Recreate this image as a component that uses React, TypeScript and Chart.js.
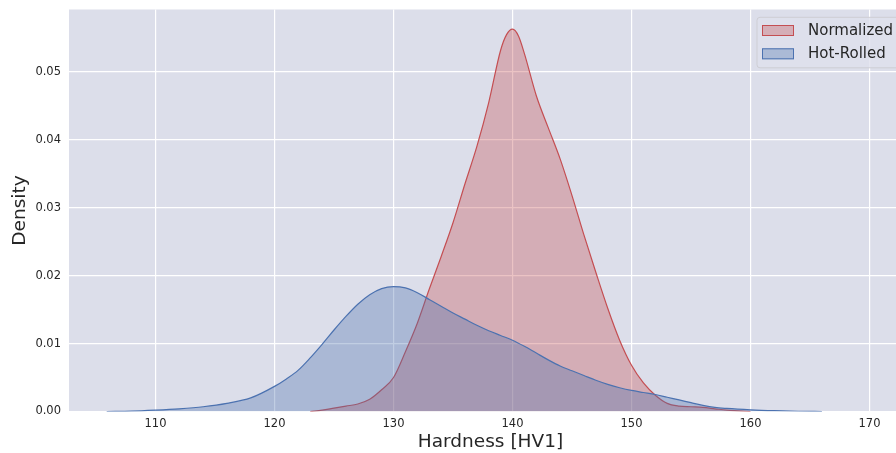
import React, { useEffect, useRef } from "react";
import { Chart, registerables } from "chart.js";

Chart.register(...registerables);

const xTicks = [110, 120, 130, 140, 150, 160, 170];
const yTicks = [0, 0.01, 0.02, 0.03, 0.04, 0.05];
const seriesNames = ["Normalized", "Hot-Rolled"];

const hotRolledX = [105.9, 108, 110, 112, 114, 116, 118, 120, 121, 122, 123, 124, 125, 126, 127, 128, 129, 130, 131, 132, 133, 134, 135, 136, 137, 138, 139, 140, 141, 142, 143, 144, 145, 146, 147, 148, 149, 150, 151, 152, 153, 154, 155, 156, 157, 158, 160, 162, 164, 166];
const hotRolledY = [0, 0.00005, 0.0002, 0.0004, 0.0007, 0.0012, 0.002, 0.0037, 0.0048, 0.0061, 0.0079, 0.0099, 0.012, 0.014, 0.0158, 0.0172, 0.0181, 0.0184, 0.0182, 0.0175, 0.0165, 0.0155, 0.0145, 0.0136, 0.0127, 0.0119, 0.0112, 0.0105, 0.0096, 0.0086, 0.0076, 0.0067, 0.006, 0.0053, 0.0046, 0.004, 0.0035, 0.0031, 0.0028, 0.0025, 0.0021, 0.0017, 0.0013, 0.0009, 0.0006, 0.00045, 0.00025, 0.00012, 0.00004, 0];

const normalizedX = [123, 124, 125, 126, 127, 128, 129, 130, 131, 132, 133, 134, 135, 136, 137, 138, 139, 139.5, 140, 140.5, 141, 142, 143, 144, 145, 146, 147, 148, 149, 150, 151, 152, 153, 154, 155, 156, 157, 158, 159, 160];
const normalizedY = [0, 0.0002, 0.0005, 0.0008, 0.0011, 0.0018, 0.0032, 0.005, 0.0088, 0.013, 0.018, 0.0228, 0.0278, 0.0335, 0.039, 0.0455, 0.0532, 0.0555, 0.0563, 0.0553, 0.0527, 0.0465, 0.0418, 0.0372, 0.0318, 0.026, 0.0205, 0.0152, 0.0105, 0.0068, 0.0042, 0.0024, 0.0012, 0.0008, 0.0007, 0.0006, 0.0004, 0.0002, 0.0001, 0];

const FONT = "'DejaVu Sans', sans-serif";
const TEXT = "rgb(38,38,38)";
const BG = "rgb(220,222,234)";
const BLUE = "#4C72B0";
const RED = "#C44E52";
const BLUE_FILL = "rgba(76,114,176,0.35)";
const RED_FILL = "rgba(196,78,82,0.34)";

export default function App() {
  const ref = useRef<HTMLCanvasElement>(null);

  useEffect(() => {
    if (!ref.current) return;
    const bgPlugin = {
      id: "plotBg",
      beforeDraw(chart: any) {
        const { ctx, chartArea } = chart;
        ctx.save();
        ctx.fillStyle = BG;
        ctx.fillRect(chartArea.left, chartArea.top, chartArea.right - chartArea.left, chartArea.bottom - chartArea.top);
        ctx.restore();
      },
      afterDraw(chart: any) {
        const { ctx, chartArea } = chart;
        const bx = chartArea.right - 155;
        const by = chartArea.top + 7.8;
        const bw = 160;
        const bh = 50.5;
        ctx.save();
        ctx.beginPath();
        ctx.roundRect(bx, by, bw, bh, 3);
        ctx.fillStyle = "rgba(222,224,236,0.8)";
        ctx.fill();
        ctx.lineWidth = 1;
        ctx.strokeStyle = "rgb(206,206,212)";
        ctx.stroke();
        const items = [
          { label: seriesNames[0], fill: RED_FILL, line: RED, y: by + 7.7 },
          { label: seriesNames[1], fill: BLUE_FILL, line: BLUE, y: by + 31 },
        ];
        items.forEach((it) => {
          ctx.fillStyle = it.fill;
          ctx.fillRect(bx + 5, it.y, 32, 11);
          ctx.strokeStyle = it.line;
          ctx.lineWidth = 1;
          ctx.strokeRect(bx + 5.5, it.y + 0.5, 31, 10);
          ctx.fillStyle = TEXT;
          ctx.font = `15px ${FONT}`;
          ctx.textBaseline = "middle";
          ctx.textAlign = "left";
          ctx.fillText(it.label, bx + 51, it.y + 5.8);
        });
        ctx.restore();
      },
    };

    const chart = new Chart(ref.current, {
      type: "line",
      data: {
        datasets: [
          {
            label: seriesNames[1],
            data: hotRolledX.map((x, i) => ({ x, y: hotRolledY[i] })),
            borderColor: BLUE,
            backgroundColor: BLUE_FILL,
            borderWidth: 1.2,
            fill: "origin",
            pointRadius: 0,
            cubicInterpolationMode: "monotone",
          },
          {
            label: seriesNames[0],
            data: normalizedX.map((x, i) => ({ x, y: normalizedY[i] })),
            borderColor: RED,
            backgroundColor: RED_FILL,
            borderWidth: 1.2,
            fill: "origin",
            pointRadius: 0,
            cubicInterpolationMode: "monotone",
          },
        ],
      },
      options: {
        responsive: false,
        animation: false,
        devicePixelRatio: 1,
        layout: { padding: { top: 9.5, right: 8, left: 0, bottom: 0 } },
        plugins: { legend: { display: false }, tooltip: { enabled: false } },
        scales: {
          x: {
            type: "linear",
            min: 102.73,
            max: 173.57,
            afterBuildTicks: (s: any) => {
              s.ticks = xTicks.map((v) => ({ value: v }));
            },
            afterFit: (s: any) => {
              s.height = 41.5;
              s.paddingLeft = 0;
              s.paddingRight = 0;
            },
            grid: { color: "#ffffff", lineWidth: 1.2, drawTicks: false },
            border: { display: false },
            ticks: {
              color: TEXT,
              font: { family: FONT, size: 11.5 },
              padding: 6,
              maxRotation: 0,
              autoSkip: false,
              callback: (v: any) => String(v),
            },
            title: {
              display: true,
              text: "Hardness [HV1]",
              color: TEXT,
              font: { family: FONT, size: 18.5 },
              padding: { top: 0, bottom: 0 },
            },
          },
          y: {
            type: "linear",
            min: 0,
            max: 0.0592,
            afterBuildTicks: (s: any) => {
              s.ticks = yTicks.map((v) => ({ value: v }));
            },
            afterFit: (s: any) => {
              s.width = 69;
              s.paddingTop = 0;
              s.paddingBottom = 0;
            },
            grid: { color: "#ffffff", lineWidth: 1.2, drawTicks: false },
            border: { display: false },
            ticks: {
              color: TEXT,
              font: { family: FONT, size: 11.5 },
              padding: 8,
              autoSkip: false,
              callback: (v: any) => Number(v).toFixed(2),
            },
            title: {
              display: true,
              text: "Density",
              color: TEXT,
              font: { family: FONT, size: 18.5 },
              padding: { top: 9.5, bottom: 0 },
            },
          },
        },
      },
      plugins: [bgPlugin],
    } as any);

    return () => chart.destroy();
  }, []);

  return (
    <div style={{ position: "fixed", left: 0, top: 0, width: 896, height: 453, overflow: "hidden", background: "#fff" }}>
      <canvas ref={ref} width={920} height={453} style={{ display: "block", width: 920, height: 453 }} />
    </div>
  );
}
